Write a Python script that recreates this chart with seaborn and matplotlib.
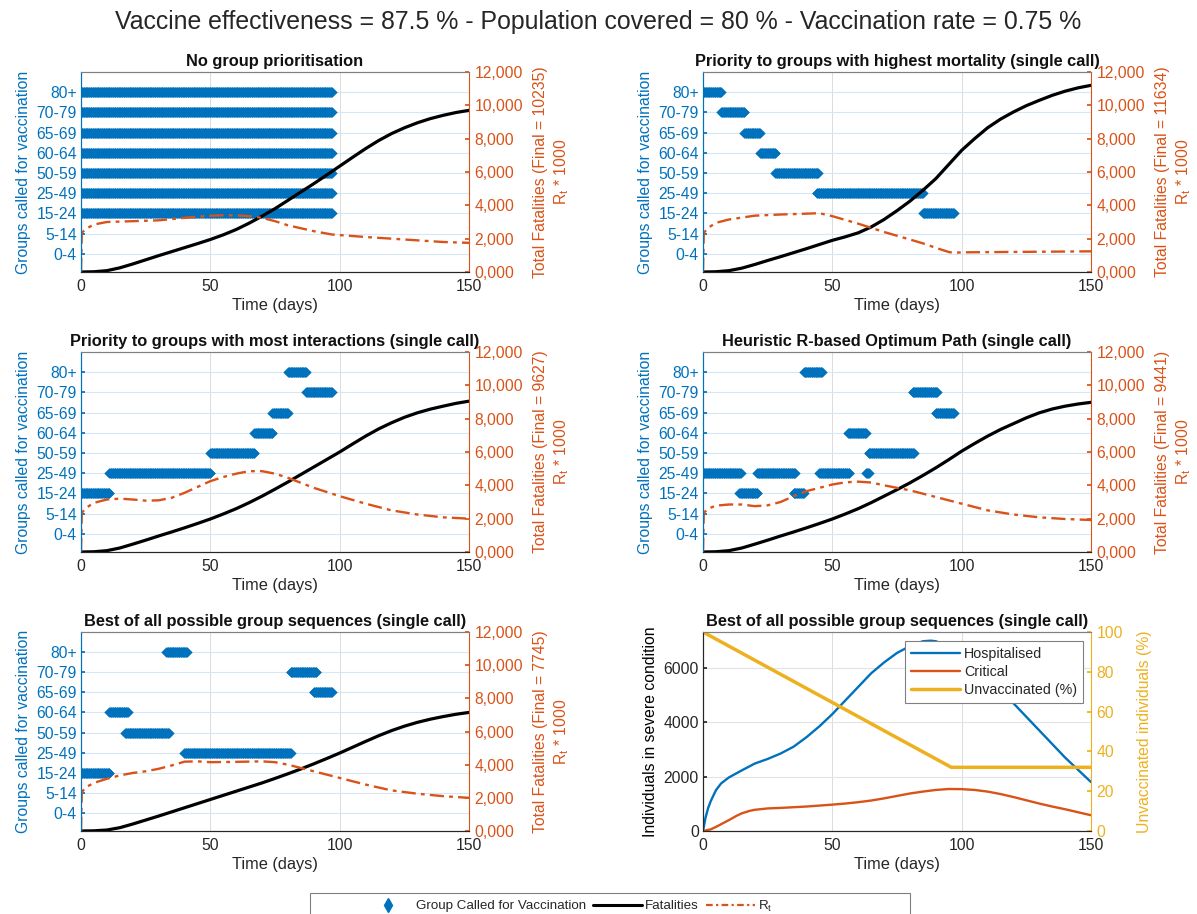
import numpy as np
import matplotlib
matplotlib.use("Agg")
import matplotlib.pyplot as plt
import seaborn as sns
from matplotlib.lines import Line2D
from matplotlib.patches import Rectangle

sns.set_theme(style="white")
plt.rcParams['font.family'] = ['Liberation Sans', 'DejaVu Sans']
plt.rcParams['mathtext.fontset'] = 'custom'
plt.rcParams['mathtext.rm'] = 'Liberation Sans'

BLUE = '#0072BD'
ORANGE = '#D95319'
YELLOW = '#EDB120'
DARK = '#262626'

# ---------------- data ----------------
groups = ['0-4', '5-14', '15-24', '25-49', '50-59', '60-64', '65-69', '70-79', '80+']

# (group, start day, end day) for each vaccination call
sched_none = [('15-24', 0, 97), ('25-49', 0, 97), ('50-59', 0, 97), ('60-64', 0, 97),
              ('65-69', 0, 97), ('70-79', 0, 97), ('80+', 0, 97)]
sched_mort = [('80+', 0, 7), ('70-79', 7, 16), ('65-69', 16, 22), ('60-64', 22, 28),
              ('50-59', 28, 44.5), ('25-49', 44, 85), ('15-24', 85, 97)]
sched_inter = [('15-24', 0, 11), ('25-49', 11, 50), ('50-59', 50, 67), ('60-64', 67, 74),
               ('65-69', 74, 80), ('80+', 80, 87), ('70-79', 87, 97)]
sched_heur = [('25-49', 0, 14.5), ('15-24', 14, 21), ('25-49', 21, 35.5), ('15-24', 35, 39),
              ('80+', 39, 46), ('25-49', 45, 56.5), ('60-64', 56, 63), ('25-49', 63, 64),
              ('50-59', 64, 81.5), ('70-79', 81, 90.5), ('65-69', 90, 97)]
sched_best = [('15-24', 0, 11), ('60-64', 11, 18), ('50-59', 17, 34), ('80+', 33, 41),
              ('25-49', 40, 81), ('70-79', 81, 91), ('65-69', 90, 97)]

t_fat = [0, 5, 10, 15, 20, 25, 30, 35, 40, 45, 50, 55, 60, 65, 70, 75, 80, 85, 90, 95,
         100, 105, 110, 115, 120, 125, 130, 135, 140, 145, 150]
fat_none = [0, 15, 80, 250, 480, 730, 980, 1220, 1460, 1700, 1950, 2230, 2550, 2930, 3350, 3800,
            4300, 4800, 5300, 5820, 6350, 6880, 7400, 7880, 8300, 8650, 8950, 9200, 9400, 9570, 9700]
fat_mort = [0, 15, 80, 230, 450, 690, 920, 1160, 1400, 1650, 1900, 2110, 2350, 2700, 3150, 3680,
            4250, 4900, 5600, 6450, 7300, 8000, 8650, 9170, 9600, 9980, 10300, 10600, 10850, 11050, 11200]
fat_inter = [0, 15, 80, 240, 470, 710, 960, 1200, 1450, 1710, 1980, 2280, 2600, 2960, 3350, 3770,
             4200, 4650, 5100, 5550, 6000, 6480, 6950, 7380, 7750, 8080, 8350, 8570, 8750, 8920, 9050]
fat_heur = [0, 15, 80, 240, 470, 710, 960, 1200, 1450, 1710, 1980, 2280, 2600, 2960, 3350, 3740,
            4150, 4590, 5050, 5540, 6050, 6510, 6950, 7350, 7700, 8050, 8350, 8580, 8750, 8880, 8980]
fat_best = [0, 12, 60, 200, 420, 660, 900, 1150, 1400, 1650, 1900, 2150, 2400, 2650, 2900, 3170,
            3450, 3740, 4050, 4370, 4700, 5050, 5400, 5740, 6050, 6320, 6550, 6740, 6900, 7040, 7150]

t_rt_none = [0, 0.3, 2, 5, 10, 20, 30, 40, 50, 55, 60, 65, 70, 75, 80, 90, 97, 110, 120, 130, 140, 150]
rt_none = [0, 2350, 2600, 2850, 3000, 3050, 3100, 3250, 3380, 3400, 3400, 3350, 3250, 3050, 2800, 2450, 2250, 2100, 2000, 1900, 1800, 1750]
t_rt_mort = [0, 0.3, 2, 5, 10, 20, 30, 40, 45, 50, 60, 65, 70, 80, 85, 90, 95, 97, 100, 150]
rt_mort = [0, 2350, 2650, 2950, 3150, 3380, 3450, 3500, 3530, 3350, 2900, 2650, 2400, 1950, 1720, 1450, 1200, 1150, 1180, 1240]
t_rt_inter = [0, 0.3, 2, 5, 10, 15, 20, 25, 30, 35, 40, 45, 50, 55, 60, 65, 70, 75, 80, 85, 90, 100, 110, 120, 130, 140, 150]
rt_inter = [0, 2350, 2650, 2950, 3150, 3200, 3150, 3080, 3100, 3250, 3550, 3900, 4250, 4500, 4700, 4850, 4850, 4700, 4450, 4150, 3850, 3350, 2900, 2500, 2250, 2080, 2000]
t_rt_heur = [0, 0.3, 2, 5, 10, 15, 20, 25, 30, 35, 40, 45, 50, 55, 60, 65, 70, 75, 80, 90, 100, 110, 120, 130, 140, 150]
rt_heur = [0, 2350, 2600, 2780, 2850, 2850, 2750, 2800, 3000, 3350, 3650, 3850, 4050, 4180, 4220, 4170, 4000, 3850, 3700, 3300, 2900, 2500, 2250, 2080, 1980, 1920]
t_rt_best = [0, 0.3, 2, 5, 10, 15, 20, 25, 30, 35, 40, 45, 50, 60, 70, 75, 80, 85, 90, 100, 110, 120, 130, 140, 150]
rt_best = [0, 2350, 2650, 2900, 3150, 3350, 3500, 3600, 3750, 3950, 4180, 4200, 4150, 4170, 4200, 4150, 4000, 3800, 3600, 3200, 2800, 2450, 2250, 2100, 2000]

final_fat = [10235, 11634, 9627, 9441, 7745]
titles = ['No group prioritisation',
          'Priority to groups with highest mortality (single call)',
          'Priority to groups with most interactions (single call)',
          'Heuristic R-based Optimum Path (single call)',
          'Best of all possible group sequences (single call)',
          'Best of all possible group sequences (single call)']

t_hosp = [0, 1, 2, 3, 5, 7, 10, 15, 20, 25, 30, 35, 40, 45, 50, 55, 60, 65, 70, 75, 80, 85, 88,
          90, 95, 100, 105, 110, 115, 120, 125, 130, 135, 140, 145, 150]
hosp = [0, 500, 850, 1100, 1500, 1750, 1970, 2230, 2480, 2650, 2850, 3100, 3450, 3850, 4300, 4800,
        5300, 5800, 6200, 6550, 6800, 6980, 7000, 6980, 6800, 6500, 6150, 5700, 5200, 4700, 4200,
        3700, 3200, 2700, 2250, 1800]
t_crit = [0, 3, 5, 8, 10, 13, 15, 18, 20, 25, 30, 40, 50, 55, 60, 65, 70, 75, 80, 85, 90, 95, 100,
          105, 110, 115, 120, 125, 130, 135, 140, 145, 150]
crit = [0, 60, 150, 300, 400, 560, 650, 740, 780, 830, 850, 900, 970, 1010, 1060, 1120, 1200, 1290,
        1380, 1450, 1510, 1545, 1540, 1510, 1450, 1360, 1250, 1130, 1010, 900, 800, 690, 580]
t_unvac = [0, 96, 150]
unvac = [100, 32, 32]

# ---------------- layout ----------------
W, H = 1197, 914
fig = plt.figure(figsize=(W / 100, H / 100), dpi=100)

def rect(x0, y0, x1, y1):
    return [x0 / W, 1 - y1 / H, (x1 - x0) / W, (y1 - y0) / H]

cols = [(81, 469), (703, 1091)]
rows = [(72, 272), (352, 552), (632, 831)]
FS = 11.3
FT = 11.8

def style_common(ax):
    ax.set_xlim(0, 150)
    ax.set_xticks([0, 50, 100, 150])
    ax.tick_params(axis='x', direction='in', length=3, colors=DARK, labelsize=FS, pad=5)
    ax.set_xlabel('Time (days)', fontsize=FT, color=DARK, labelpad=3)
    ax.grid(axis='x', color='#dcdcdc', lw=0.7)
    ax.spines['bottom'].set_color(DARK)
    ax.spines['top'].set_color('#808080')
    for s in ax.spines.values():
        s.set_linewidth(0.8)

def strategy_panel(idx, sched, t_f, fat, t_r, rt):
    r, c = divmod(idx, 2)
    ax = fig.add_axes(rect(cols[c][0], rows[r][0], cols[c][1], rows[r][1]))
    pos = {g: i + 1 for i, g in enumerate(groups)}
    xs, ys = [], []
    for g, a, b in sched:
        tt = np.arange(a, b + 1e-9, 0.25)
        xs.extend(tt)
        ys.extend([pos[g]] * len(tt))
    sns.scatterplot(x=xs, y=ys, marker='D', s=28, color=BLUE, linewidth=0, ax=ax, zorder=3)
    ax.set_ylim(0.1, 10)
    ax.set_yticks(range(1, len(groups) + 1))
    ax.set_yticklabels(groups)
    ax.grid(axis='y', color='#d6e6f3', lw=0.8)
    style_common(ax)
    ax.tick_params(axis='y', direction='in', length=3, colors=BLUE, labelsize=FS, pad=3)
    ax.spines['left'].set_color(BLUE)
    ax.spines['right'].set_visible(False)
    ax.set_ylabel('Groups called for vaccination', color=BLUE, fontsize=FS, labelpad=4)
    ax.set_title(titles[idx], fontsize=FT, fontweight='bold', pad=4, color='#111111')

    ax2 = ax.twinx()
    sns.lineplot(x=t_f, y=fat, color='black', lw=2.3, ax=ax2, estimator=None, sort=False)
    sns.lineplot(x=t_r, y=rt, color=ORANGE, lw=1.7, ax=ax2, estimator=None, sort=False)
    ax2.lines[-1].set_dashes([6, 2.2, 1.6, 2.2])
    ax2.set_ylim(0, 12000)
    ax2.set_xlim(0, 150)
    ax2.set_yticks(range(0, 12001, 2000))
    ax2.set_yticklabels(['%d,000' % (v // 1000) for v in range(0, 12001, 2000)])
    ax2.tick_params(axis='y', direction='in', length=3, colors=ORANGE, labelsize=FS, pad=4)
    for s in ax2.spines.values():
        s.set_linewidth(0.8)
    ax2.spines['right'].set_color(ORANGE)
    ax2.spines['left'].set_color(BLUE)
    ax2.spines['top'].set_color('#808080')
    ax2.spines['bottom'].set_color(DARK)
    ax2.set_ylabel('Total Fatalities (Final = %d)\nR$_\\mathregular{t}$ * 1000' % final_fat[idx],
                   color=ORANGE, fontsize=FS, labelpad=7, linespacing=1.3)
    ax2.grid(False)
    return ax

strategy_panel(0, sched_none, t_fat, fat_none, t_rt_none, rt_none)
strategy_panel(1, sched_mort, t_fat, fat_mort, t_rt_mort, rt_mort)
strategy_panel(2, sched_inter, t_fat, fat_inter, t_rt_inter, rt_inter)
strategy_panel(3, sched_heur, t_fat, fat_heur, t_rt_heur, rt_heur)
strategy_panel(4, sched_best, t_fat, fat_best, t_rt_best, rt_best)

# panel 6
ax = fig.add_axes(rect(cols[1][0], rows[2][0], cols[1][1], rows[2][1]))
sns.lineplot(x=t_hosp, y=hosp, color=BLUE, lw=1.7, ax=ax, estimator=None, sort=False)
sns.lineplot(x=t_crit, y=crit, color=ORANGE, lw=1.7, ax=ax, estimator=None, sort=False)
ax.set_ylim(0, 7320)
ax.set_yticks([0, 2000, 4000, 6000])
ax.grid(axis='y', color='#e3e3e3', lw=0.8)
style_common(ax)
ax.tick_params(axis='y', direction='in', length=3, colors=DARK, labelsize=FS, pad=3)
ax.spines['left'].set_color(DARK)
ax.spines['right'].set_visible(False)
ax.set_ylabel('Individuals in severe condition', color='black', fontsize=FS, labelpad=4)
ax.set_title(titles[5], fontsize=FT, fontweight='bold', pad=4, color='#111111')
ax2 = ax.twinx()
sns.lineplot(x=t_unvac, y=unvac, color=YELLOW, lw=2.5, ax=ax2, estimator=None, sort=False)
ax2.set_ylim(0, 100)
ax2.set_xlim(0, 150)
ax2.set_yticks(range(0, 101, 20))
ax2.tick_params(axis='y', direction='in', length=3, colors=YELLOW, labelsize=FS, pad=4)
for s in ax2.spines.values():
    s.set_linewidth(0.8)
ax2.spines['right'].set_color(YELLOW)
ax2.spines['left'].set_color(DARK)
ax2.spines['top'].set_color('#808080')
ax2.spines['bottom'].set_color(DARK)
ax2.set_ylabel('Unvaccinated individuals (%)', color=YELLOW, fontsize=FS, labelpad=10)
ax2.grid(False)
h6 = [Line2D([], [], color=BLUE, lw=1.7), Line2D([], [], color=ORANGE, lw=1.7),
      Line2D([], [], color=YELLOW, lw=2.5)]
leg6 = ax2.legend(h6, ['Hospitalised', 'Critical', 'Unvaccinated (%)'], loc='upper right',
                  bbox_to_anchor=(0.979, 0.955), borderaxespad=0, fontsize=FS - 1,
                  frameon=True, fancybox=False, edgecolor='#808080', framealpha=1,
                  handlelength=3.4, handletextpad=0.3, borderpad=0.4, labelspacing=0.3)
leg6.get_frame().set_linewidth(0.8)

# bottom legend (box partially below the figure edge, as in the original)
fig.patches.append(Rectangle((310 / W, 1 - 935 / H), 600 / W, 42 / H, transform=fig.transFigure,
                             facecolor='white', edgecolor='#808080', lw=0.8, zorder=0))
hb = [Line2D([], [], color=BLUE, marker='d', ls='none', markersize=7),
      Line2D([], [], color='black', lw=2.2),
      Line2D([], [], color=ORANGE, lw=1.6, dashes=[3, 1.5, 1, 1.5])]
legb = fig.legend(hb, ['Group Called for Vaccination', 'Fatalities', 'R$_\\mathregular{t}$'],
                  loc='center', bbox_to_anchor=(568 / W, 1 - 906 / H), ncol=3,
                  fontsize=9.6, frameon=False, handlelength=3.7, handletextpad=0.25,
                  columnspacing=0.5, borderpad=0, borderaxespad=0)

fig.suptitle('Vaccine effectiveness = 87.5 % - Population covered = 80 % - Vaccination rate = 0.75 %',
             fontsize=17.9, y=1 - 22 / H, va='center')

fig.savefig('out.png', dpi=100)
